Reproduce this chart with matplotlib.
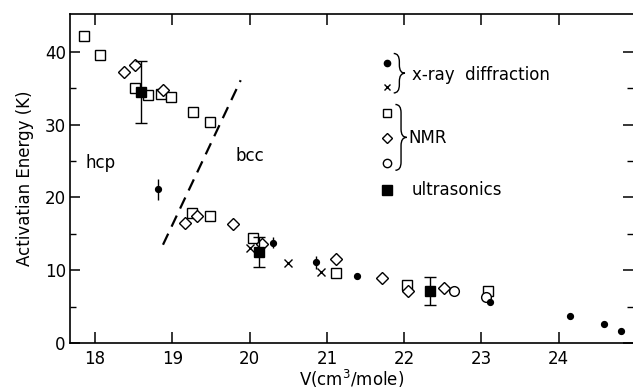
import numpy as np
import matplotlib
matplotlib.use("Agg")
import matplotlib.pyplot as plt
from matplotlib.path import Path
from matplotlib.patches import PathPatch

plt.rcParams['font.family'] = ['DejaVu Sans']

# x-ray diffraction, filled dots (with some error bars)
xray_dot_v = [18.82, 20.30, 20.86, 21.385, 23.11, 24.14, 24.58, 24.81]
xray_dot_e = [21.1, 13.8, 11.1, 9.2, 5.6, 3.7, 2.6, 1.7]
xray_dot_err = [1.4, 0.7, 0.9, 0.3, 0.0, 0.0, 0.0, 0.0]

# x-ray diffraction, crosses
xray_x_v = [20.00, 20.50, 20.93]
xray_x_e = [13.0, 11.0, 9.8]

# NMR
nmr_sq_v = [17.86, 18.07, 18.52, 18.68, 18.85, 18.99, 19.27, 19.49,
            19.25, 19.49, 20.04, 21.12, 22.04, 23.08]
nmr_sq_e = [42.2, 39.5, 35.0, 34.1, 34.2, 33.8, 31.7, 30.3,
            17.9, 17.5, 14.4, 9.6, 7.9, 7.1]
nmr_dia_v = [18.375, 18.52, 18.88, 19.17, 19.32, 19.79, 20.16, 21.12, 21.71, 22.05, 22.52]
nmr_dia_e = [37.2, 38.2, 34.7, 16.5, 17.4, 16.3, 13.6, 11.5, 8.9, 7.1, 7.5]
nmr_circ_v = [22.64, 23.06]
nmr_circ_e = [7.2, 6.3]

# ultrasonics
ultra_v = [18.59, 20.12, 22.33]
ultra_e = [34.5, 12.5, 7.1]
ultra_err = [4.3, 2.0, 1.9]

# hcp/bcc boundary (dashed)
bound_v = [18.88, 19.885]
bound_e = [13.5, 36.1]


def brace(ax, x, y0, y1, w=0.010, tip=0.010):
    # right-pointing curly brace in axes coords
    ym = (y0 + y1) / 2
    h = 0.025
    verts = [(x - w, y1), (x, y1), (x, y1 - h),
             (x, ym + h), (x, ym), (x + tip, ym),
             (x, ym), (x, ym - h),
             (x, y0 + h), (x, y0), (x - w, y0)]
    codes = [Path.MOVETO, Path.CURVE3, Path.CURVE3,
             Path.LINETO, Path.CURVE3, Path.CURVE3,
             Path.CURVE3, Path.CURVE3,
             Path.LINETO, Path.CURVE3, Path.CURVE3]
    ax.add_patch(PathPatch(Path(verts, codes), fill=False, lw=1.0,
                           transform=ax.transAxes, clip_on=False))


fig = plt.figure(figsize=(6.33, 3.9), dpi=100)
ax = fig.add_axes([70 / 633, 1 - 343 / 390, 563 / 633, 329 / 390])

ax.plot(bound_v, bound_e, color='k', lw=1.6, dashes=(5.5, 3.5))

ax.errorbar(xray_dot_v, xray_dot_e, yerr=xray_dot_err, fmt='o', color='k',
            ms=4.2, elinewidth=1.0, capsize=0)
ax.plot(xray_x_v, xray_x_e, 'x', color='k', ms=5.5, mew=1.0)
ax.plot(nmr_sq_v, nmr_sq_e, 's', mfc='white', mec='k', ms=6.5, mew=1.0)
ax.plot(nmr_dia_v, nmr_dia_e, 'D', mfc='white', mec='k', ms=6.0, mew=1.0)
ax.plot(nmr_circ_v, nmr_circ_e, 'o', mfc='white', mec='k', ms=7.0, mew=1.0)
ax.errorbar(ultra_v, ultra_e, yerr=ultra_err, fmt='s', color='k',
            ms=7.0, elinewidth=1.0, capsize=4, capthick=1.0)

ax.set_xlim(17.677, 24.96)
ax.set_ylim(0, 45.2)
ax.set_xticks([18, 19, 20, 21, 22, 23, 24])
ax.set_yticks([0, 10, 20, 30, 40])
ax.set_yticks([5, 15, 25, 35], minor=True)

ax.spines['right'].set_visible(False)
for s in ['left', 'top', 'bottom']:
    ax.spines[s].set_linewidth(1.2)

ax.tick_params(axis='x', which='major', direction='in', length=8, width=1.1,
               top=True, labelsize=12, pad=5)
ax.tick_params(axis='y', which='major', direction='in', length=7, width=1.1,
               right=True, labelsize=12, pad=3)
ax.tick_params(axis='y', which='minor', direction='in', length=4, width=1.0,
               right=True)

ax.set_xlabel('V(cm$^3$/mole)', fontsize=12, labelpad=0)
ax.set_ylabel('Activatian Energy (K)', fontsize=12, labelpad=8)

ax.text(18.07, 24.7, 'hcp', fontsize=12, ha='center', va='center')
ax.text(20.01, 25.7, 'bcc', fontsize=12, ha='center', va='center')

# hand-drawn legend
lx = 0.563
ly = [0.851, 0.778, 0.699, 0.623, 0.547, 0.465]
ax.plot(lx, ly[0], 'o', color='k', ms=4.5, transform=ax.transAxes, clip_on=False)
ax.plot(lx, ly[1], 'x', color='k', ms=5.0, mew=1.0, transform=ax.transAxes)
ax.plot(lx, ly[2], 's', mfc='white', mec='k', ms=6.0, mew=1.0, transform=ax.transAxes)
ax.plot(lx, ly[3], 'D', mfc='white', mec='k', ms=5.5, mew=1.0, transform=ax.transAxes)
ax.plot(lx, ly[4], 'o', mfc='white', mec='k', ms=6.0, mew=1.0, transform=ax.transAxes)
ax.plot(lx, ly[5], 's', color='k', ms=6.5, transform=ax.transAxes)
brace(ax, 0.585, 0.760, 0.880)
brace(ax, 0.588, 0.525, 0.725)
ax.text(0.607, (ly[0] + ly[1]) / 2, 'x-ray  diffraction', fontsize=12,
        transform=ax.transAxes, va='center')
ax.text(0.601, ly[3], 'NMR', fontsize=12, transform=ax.transAxes, va='center')
ax.text(0.607, ly[5], 'ultrasonics', fontsize=12, transform=ax.transAxes, va='center')

fig.savefig('out.png', dpi=100)
